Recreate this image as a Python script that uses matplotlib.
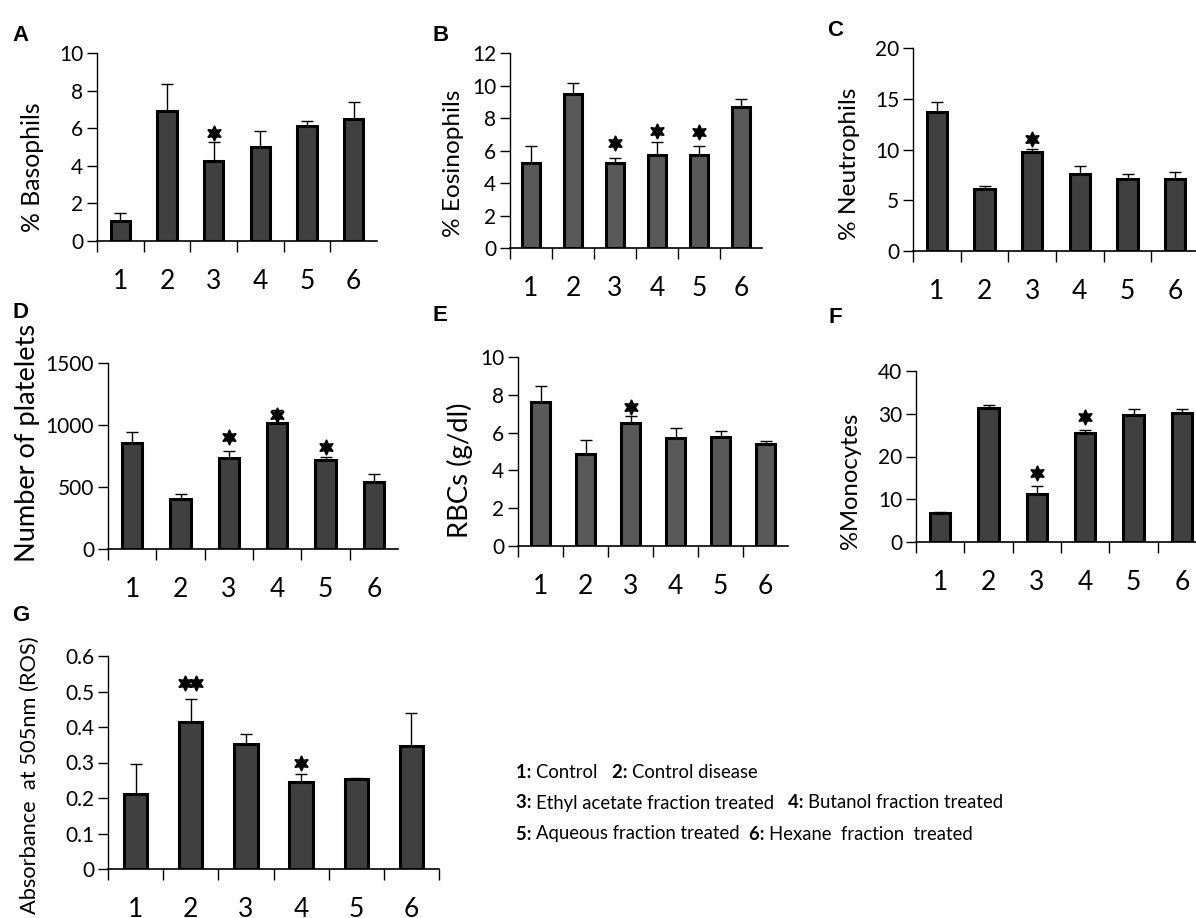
import matplotlib
matplotlib.use("Agg")
import matplotlib.pyplot as plt
import numpy as np

plt.rcParams['font.family'] = ['Lato', 'DejaVu Sans']

groups = ['1', '2', '3', '4', '5', '6']

# panel data: mean values and upper error (SD)
baso = [1.05, 6.9, 4.25, 5.0, 6.1, 6.5]
baso_err = [0.45, 1.45, 1.0, 0.85, 0.3, 0.9]
eosino = [5.23, 9.45, 5.23, 5.72, 5.75, 8.66]
eosino_err = [1.07, 0.7, 0.33, 0.8, 0.55, 0.53]
neutro = [13.65, 6.08, 9.75, 7.55, 7.06, 7.06]
neutro_err = [1.0, 0.32, 0.33, 0.85, 0.56, 0.69]
platelets = [855, 406, 737, 1016, 718, 543]
platelets_err = [86, 40, 53, 108, 27, 59]
rbc = [7.62, 4.89, 6.51, 5.71, 5.77, 5.41]
rbc_err = [0.86, 0.74, 0.37, 0.53, 0.31, 0.16]
mono = [6.7, 31.25, 11.25, 25.5, 29.8, 30.2]
mono_err = [0.4, 0.75, 1.85, 0.75, 1.4, 0.8]
ros = [0.212, 0.414, 0.352, 0.245, 0.253, 0.347]
ros_err = [0.084, 0.066, 0.029, 0.022, 0.003, 0.092]

# significance markers: (group index, y position, number of stars)
stars_a = [(2, 5.77, 1)]
stars_b = [(2, 6.46, 1), (3, 7.18, 1), (4, 7.14, 1)]
stars_c = [(2, 11.07, 1)]
stars_d = [(2, 903, 1), (3, 1078, 1), (4, 823, 1)]
stars_e = [(2, 7.35, 1)]
stars_f = [(2, 16.1, 1), (3, 29.2, 1)]
stars_g = [(1, 0.523, 2), (3, 0.298, 1)]

W, H = 1196, 918
fig = plt.figure(figsize=(W / 100, H / 100), dpi=100)
renderer = fig.canvas.get_renderer()


def px_axes(x0, y0, x1, y1):
    return fig.add_axes([x0 / W, 1 - y1 / H, (x1 - x0) / W, (y1 - y0) / H])


def fit_size(txt, target, base=16):
    # scale font size so the text spans about `target` pixels
    txt.set_fontsize(base)
    bb = txt.get_window_extent(renderer=renderer)
    length = max(bb.width, bb.height)
    txt.set_fontsize(base * target / length)


def panel(box, vals, errs, stars, ymax, ystep, ylabel, lab_xy, lab_len, color, letter,
          letter_xy, end_tick=False, ytick_fmt=None):
    ax = px_axes(*box)
    x = np.arange(len(vals))
    ax.bar(x, vals, width=0.42, color=color, edgecolor='black', linewidth=2.2, zorder=2)
    ax.errorbar(x, vals, yerr=[np.zeros(len(errs)), errs], fmt='none', ecolor='black',
                elinewidth=1, capsize=4, capthick=1, zorder=1)
    for i, y, n in stars:
        xs = [i] if n == 1 else [i - 0.1, i + 0.1]
        ax.plot(xs, [y] * len(xs), ls='none', marker=(6, 1, 0), ms=11, color='black',
                zorder=3, clip_on=False)
    ax.set_xlim(-0.5, 5.5)
    ax.set_ylim(0, ymax)
    yt = np.arange(0, ymax + ystep / 2, ystep)
    ax.set_yticks(yt)
    if ytick_fmt:
        ax.set_yticklabels([ytick_fmt(v) for v in yt])
    bounds = np.arange(-0.5, 5.6 if end_tick else 5.0, 1.0)
    ax.set_xticks(bounds)
    ax.set_xticklabels([''] * len(bounds))
    ax.set_xticks(x, minor=True)
    ax.set_xticklabels(groups, minor=True, fontsize=19)
    ax.tick_params(axis='x', which='major', length=8, width=1, direction='out')
    ax.tick_params(axis='x', which='minor', length=0, pad=20)
    ax.tick_params(axis='y', length=7, width=1, labelsize=15, pad=3)
    for s in ['top', 'right']:
        ax.spines[s].set_visible(False)
    ax.spines['left'].set_linewidth(1)
    ax.spines['bottom'].set_linewidth(1.2)
    lab = ax.set_ylabel(ylabel, va='center', ha='center')
    ax.yaxis.set_label_coords(*lab_xy)
    fit_size(lab, lab_len)
    fig.text(letter_xy[0] / W, 1 - letter_xy[1] / H, letter, fontsize=16, fontweight='bold',
             family='Liberation Sans', va='top', ha='left')
    return ax


dark = '#404040'
mid = '#595959'

panel((97, 53, 377, 241), baso, baso_err, stars_a, 10, 2, '% Basophils',
      ((32 - 97) / 280, 0.39), 130, dark, 'A', (12, 25))
panel((510, 53, 762, 248), eosino, eosino_err, stars_b, 12, 2, '% Eosinophils',
      ((453 - 510) / 252, 0.436), 147, mid, 'B', (432, 25))
panel((913, 48, 1199, 251), neutro, neutro_err, stars_c, 20, 5, '% Neutrophils',
      ((850 - 913) / 286, 0.43), 152, dark, 'C', (827, 20))
panel((108, 363, 398, 549), platelets, platelets_err, stars_d, 1500, 500, 'Number of platelets',
      ((28 - 108) / 290, 0.57), 240, dark, 'D', (12, 302))
panel((518, 357, 788, 546), rbc, rbc_err, stars_e, 10, 2, 'RBCs (g/dl)',
      ((460 - 518) / 270, 0.40), 136, mid, 'E', (432, 305))
panel((916, 371, 1206, 542), mono, mono_err, stars_f, 40, 10, '%Monocytes',
      ((850 - 916) / 290, 0.357), 137, dark, 'F', (828, 307))
panel((108, 656, 439, 869), ros, ros_err, stars_g, 0.6, 0.1, 'Absorbance  at 505nm (ROS)',
      ((30 - 108) / 331, 0.44), 280, dark, 'G', (12, 605), end_tick=True,
      ytick_fmt=lambda v: '0' if abs(v) < 1e-9 else f'{v:.1f}')

# group key
legend_lines = [
    [('1:', 'Control   '), ('2:', 'Control disease')],
    [('3:', 'Ethyl acetate fraction treated   '), ('4:', 'Butanol fraction treated')],
    [('5:', 'Aqueous fraction treated  '), ('6:', 'Hexane  fraction  treated')],
]


def draw_line(parts, x0, y, size):
    xpos = x0
    for num, txt in parts:
        for s, wt in [(num + ' ', 'bold'), (txt, 'normal')]:
            t = fig.text(xpos / W, 1 - y / H, s, fontsize=size, fontweight=wt,
                         va='center', ha='left')
            xpos += t.get_window_extent(renderer=renderer).width
    return xpos


# size the key so the longest line spans ~490 px like the original
probe = draw_line(legend_lines[1], -2000, -2000, 14) + 2000
key_size = 14 * 490 / probe
for k, line in enumerate(legend_lines):
    draw_line(line, 516, 772 + 31 * k, key_size)

fig.savefig('out.png', dpi=100)
